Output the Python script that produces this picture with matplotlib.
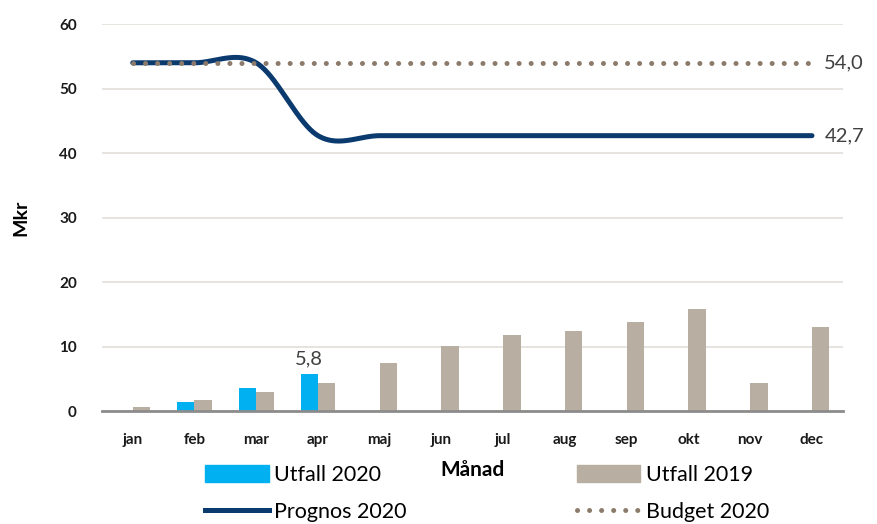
import numpy as np
import matplotlib
matplotlib.use("Agg")
import matplotlib.pyplot as plt
from matplotlib.patches import Patch
from matplotlib.lines import Line2D

plt.rcParams['font.family'] = ['Lato', 'DejaVu Sans']

# data
months = ["jan", "feb", "mar", "apr", "maj", "jun", "jul", "aug", "sep", "okt", "nov", "dec"]
utfall_2020 = [0.0, 1.4, 3.5, 5.8]
utfall_2019 = [0.6, 1.7, 2.9, 4.3, 7.4, 10.1, 11.8, 12.4, 13.8, 15.8, 4.3, 13.0]
prognos_2020 = [54.0, 54.0, 54.0, 42.7, 42.7, 42.7, 42.7, 42.7, 42.7, 42.7, 42.7, 42.7]
budget_2020 = [54.0] * 12

c_2020 = "#00b0f0"
c_2019 = "#b8aea2"
c_prog = "#0b3a6f"
c_budget = "#8c7b6b"


def smooth(x, y, n=40):
    """Excel-style smoothed line (Catmull-Rom through the points)"""
    x = np.asarray(x, float)
    y = np.asarray(y, float)
    xs, ys = [], []
    for i in range(len(x) - 1):
        y0 = y[i - 1] if i > 0 else y[i]
        y3 = y[i + 2] if i + 2 < len(y) else y[i + 1]
        m1 = (y[i + 1] - y0) / 2
        m2 = (y3 - y[i]) / 2
        t = np.linspace(0, 1, n)
        h00 = 2 * t**3 - 3 * t**2 + 1
        h10 = t**3 - 2 * t**2 + t
        h01 = -2 * t**3 + 3 * t**2
        h11 = t**3 - t**2
        xs.append(x[i] + t * (x[i + 1] - x[i]))
        ys.append(h00 * y[i] + h10 * m1 + h01 * y[i + 1] + h11 * m2)
    return np.concatenate(xs), np.concatenate(ys)


fig = plt.figure(figsize=(8.78, 5.24), dpi=100)
ax = fig.add_axes([0.116, 0.2156, 0.844, 0.7384])

x = np.arange(len(months))
w = 0.28
ax.bar(x[:len(utfall_2020)] - w / 2, utfall_2020, w, color=c_2020, zorder=2)
ax.bar(x + w / 2, utfall_2019, w, color=c_2019, zorder=2)

sx, sy = smooth(x, prognos_2020)
ax.plot(sx, sy, color=c_prog, lw=3.6, solid_capstyle='round', zorder=3)
ax.plot(x, budget_2020, color=c_budget, lw=3.6, linestyle=(0, (0.01, 2.4)),
        dash_capstyle='round', zorder=4)

# value labels
lbl = dict(fontsize=14.5, color='#404040')
ax.text(x[-1] + 0.2, budget_2020[-1], "54,0", ha='left', va='center', **lbl)
ax.text(x[-1] + 0.2, prognos_2020[-1], "42,7", ha='left', va='center', **lbl)
ax.text(x[3] - w / 2, utfall_2020[3] + 1.0, "5,8", ha='center', va='bottom', **lbl)

ax.set_xlim(-0.5, 11.5)
ax.set_ylim(0, 60)
ax.set_yticks(range(0, 61, 10))
ax.set_xticks(x)
ax.set_xticklabels(months)
for lab in ax.get_xticklabels() + ax.get_yticklabels():
    lab.set_fontweight('bold')
    lab.set_fontsize(11)
    lab.set_color('#1a1a1a')
ax.tick_params(axis='both', length=0)
ax.tick_params(axis='x', pad=16)
ax.tick_params(axis='y', pad=18)
ax.grid(axis='y', color='#e3ded8', lw=1.2, zorder=0)
for s in ['top', 'right', 'left']:
    ax.spines[s].set_visible(False)
ax.spines['bottom'].set_color('#8c8c8c')
ax.spines['bottom'].set_linewidth(2)
ax.spines['bottom'].set_zorder(5)

ax.set_ylabel("Mkr", fontsize=14, fontweight='bold', labelpad=21)
ax.set_xlabel("Månad", fontsize=15, fontweight='bold', labelpad=9)

handles = [
    Patch(color=c_2020, label="Utfall 2020"),
    Line2D([], [], color=c_prog, lw=3.6, label="Prognos 2020"),
    Patch(color=c_2019, label="Utfall 2019"),
    Line2D([], [], color=c_budget, lw=3.6, linestyle=(0, (0.01, 2.4)),
           dash_capstyle='round', label="Budget 2020"),
]
fig.legend(handles=handles, ncol=2, loc='lower center', bbox_to_anchor=(0.555, -0.034),
           frameon=False, fontsize=15.5, handlelength=2.95, handleheight=0.85,
           columnspacing=7.9, handletextpad=0.25, labelspacing=0.82)

fig.savefig("out.png", dpi=100)
